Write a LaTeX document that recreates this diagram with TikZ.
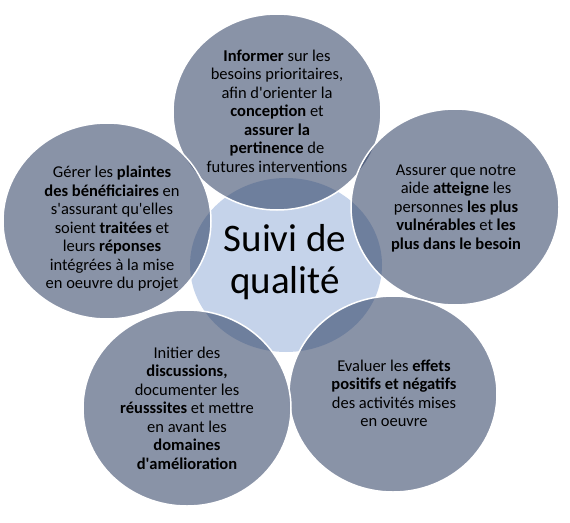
\documentclass[tikz,border=0pt]{standalone}
\usepackage{fontspec}
\setmainfont{Carlito}
\usetikzlibrary{shapes.geometric}
\definecolor{centerfill}{RGB}{197,211,234}
\definecolor{outerbase}{RGB}{40,58,95}
\newcommand{\ap}{\textquotesingle}
\tikzset{
  hub/.style={ellipse, inner sep=0pt, minimum width=192pt, minimum height=174pt, fill=centerfill},
  petal/.style={ellipse, inner sep=0pt, minimum width=208pt, minimum height=196pt,
    fill=outerbase, fill opacity=0.55, draw=white, draw opacity=1, line width=1.5pt},
  petaltext/.style={align=center, text=black, inner sep=0pt, font=\fontsize{16.5}{18.5}\selectfont},
  hubtext/.style={align=center, text=black, inner sep=0pt, font=\fontsize{39}{42.5}\selectfont}
}
\begin{document}
\begin{tikzpicture}[x=1pt,y=-1pt]
\useasboundingbox (0,0) rectangle (570,522);
\node[hub] (hub) at (286,265) {};
\node[petal] (ptop) at (277,112) {};
\node[petal] (pright) at (455,207) {};
\node[petal] (pbr) at (393,394) {};
\node[petal] (pbl) at (187,408) {};
\node[petal] (pleft) at (107,221) {};
\node[hubtext] (thub) at (285,262) {Suivi de\\qualité};
\node[petaltext] (ttop) at (277,111) {\textbf{Informer} sur les\\besoins prioritaires,\\afin d\ap orienter la\\\textbf{conception} et\\\textbf{assurer la}\\\textbf{pertinence} de\\futures interventions};
\node[petaltext] (tleft) at (112,229) {Gérer les \textbf{plaintes}\\\textbf{des bénéficiaires} en\\s\ap assurant qu\ap elles\\soient \textbf{traitées} et\\leurs \textbf{réponses}\\intégrées à la mise\\en oeuvre du projet};
\node[petaltext] (tright) at (456,208.5) {Assurer que notre\\aide \textbf{atteigne} les\\personnes \textbf{les plus}\\\textbf{vulnérables} et \textbf{les}\\\textbf{plus dans le besoin}};
\node[petaltext] (tbl) at (187,408) {Initier des\\\textbf{discussions,}\\documenter les\\\textbf{réusssites} et mettre\\en avant les\\\textbf{domaines}\\\textbf{d\ap amélioration}};
\node[petaltext] (tbr) at (394,393.5) {Evaluer les \textbf{effets}\\\textbf{positifs et négatifs}\\des activités mises\\en oeuvre};
\end{tikzpicture}
\end{document}
